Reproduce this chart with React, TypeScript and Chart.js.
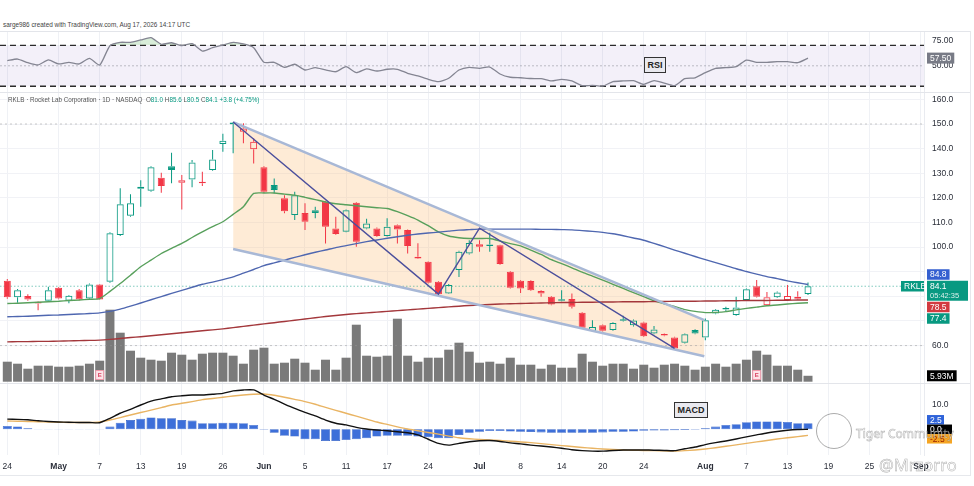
import React, { useEffect, useRef } from "react";
import { Chart, registerables } from "chart.js";

Chart.register(...registerables);

const FONT = "'Liberation Sans', Arial, sans-serif";

// ---------- x axis (trading-day index) ----------
const xTickIdx = [0, 5, 9, 13, 17, 21, 25, 29, 33, 37, 41, 46, 50, 54, 58, 62, 68, 72, 76, 80, 84, 89];
const xTickLabels = ["24", "May", "7", "13", "19", "26", "Jun", "5", "11", "17", "24", "Jul", "8", "14", "20", "24", "Aug", "7", "13", "19", "25", "Sep"];
const monthLabels = ["May", "Jun", "Jul", "Aug", "Sep"];
const X_MIN = -0.711;
const X_MAX = 89.3;

// ---------- price series (Apr 24 → Aug 17) ----------
const opens = [86.3, 79.6, 80.1, 77.8, 78.2, 83.5, 78.2, 82.5, 79.1, 84.8, 85.9, 104.9, 112.7, 123.7, 122.9, 128.2, 132.8, 126.1, 127.5, 126.4, 131.3, 141.9, 150.0, 146.9, 139.7, 132.4, 125.2, 119.8, 113.0, 113.9, 115.0, 118.4, 107.6, 106.2, 118.0, 107.6, 107.6, 104.5, 108.9, 106.9, 96.1, 94.0, 85.9, 81.2, 90.7, 97.4, 101.2, 101.1, 100.8, 90.0, 86.3, 86.2, 82.2, 79.8, 78.7, 78.9, 73.3, 65.9, 68.3, 66.3, 70.6, 68.3, 69.4, 64.9, 64.6, 63.3, 61.1, 66.3, 63.3, 73.0, 74.9, 72.4, 78.5, 84.1, 76.4, 79.6, 78.5, 79.0, 81.0];
const highs = [87.0, 83.0, 80.8, 78.0, 83.9, 83.8, 80.5, 83.0, 85.2, 85.0, 106.0, 123.9, 121.5, 127.2, 132.8, 130.2, 138.3, 129.3, 135.4, 130.6, 139.4, 146.0, 150.8, 150.3, 144.2, 132.8, 127.9, 121.1, 122.5, 117.8, 116.4, 118.8, 112.3, 115.3, 118.3, 111.5, 108.0, 111.7, 109.2, 107.2, 101.6, 94.3, 86.2, 85.0, 98.5, 102.8, 102.8, 105.8, 101.0, 90.3, 86.6, 86.5, 82.5, 80.1, 82.5, 81.2, 73.6, 70.3, 68.6, 69.5, 72.1, 70.6, 69.7, 68.0, 64.9, 63.6, 64.9, 66.6, 71.0, 74.9, 75.8, 79.8, 83.2, 86.6, 81.8, 82.0, 84.6, 82.1, 85.6];
const lows = [79.0, 77.4, 78.2, 74.4, 78.0, 78.8, 77.2, 78.3, 78.9, 78.5, 85.5, 104.5, 112.3, 116.4, 122.5, 122.1, 125.9, 115.3, 124.3, 124.8, 131.0, 138.7, 138.1, 142.2, 134.0, 122.0, 121.8, 113.7, 111.0, 106.9, 111.7, 101.5, 105.0, 106.0, 100.1, 107.3, 104.2, 104.3, 101.5, 97.4, 95.2, 85.2, 80.5, 81.0, 87.9, 97.0, 98.1, 98.1, 92.8, 83.2, 81.4, 82.2, 79.8, 76.4, 78.0, 75.1, 66.9, 65.5, 65.7, 66.0, 69.8, 67.8, 63.5, 64.6, 63.8, 58.5, 60.8, 64.6, 62.2, 72.7, 74.0, 72.1, 78.2, 79.5, 76.1, 79.3, 78.2, 78.7, 80.5];
const closes = [79.6, 82.5, 78.7, 77.1, 82.5, 79.1, 80.2, 78.7, 84.8, 78.7, 105.6, 117.4, 117.8, 124.5, 132.4, 124.8, 131.3, 127.2, 134.4, 125.9, 135.6, 143.2, 150.5, 148.2, 142.8, 122.5, 123.2, 114.6, 121.1, 110.3, 113.9, 108.3, 105.3, 115.0, 102.2, 109.6, 104.5, 108.3, 107.2, 100.4, 95.4, 85.5, 80.8, 84.6, 98.1, 101.7, 100.1, 100.4, 93.1, 83.5, 83.2, 82.5, 81.2, 76.7, 78.2, 75.8, 67.2, 67.5, 66.0, 69.2, 70.1, 70.2, 63.8, 66.5, 64.1, 58.8, 64.6, 64.9, 70.3, 74.6, 74.7, 75.5, 82.9, 79.8, 79.6, 81.6, 80.1, 79.8, 84.1];
const volumes = [20, 18, 13, 16, 16, 15, 15, 16, 18, 21, 72, 49, 31, 24, 22, 21, 29, 27, 22, 28, 29, 29, 26, 18, 32, 34, 18, 19, 23, 19, 12, 22, 12, 24, 57, 26, 25, 26, 63, 26, 20, 24, 24, 32, 39, 30, 19, 20, 18, 24, 17, 17, 13, 17, 14, 14, 28, 20, 16, 18, 18, 13, 17, 14, 17, 18, 16, 12, 15, 18, 15, 18, 22, 31, 27, 16, 16, 12, 5.93];

// ---------- moving averages ----------
const ma20 = [77.1, 77.2, 77.4, 77.6, 77.8, 78.0, 78.3, 78.5, 78.8, 79.1, 82.0, 85.2, 88.6, 92.0, 94.7, 97.4, 99.5, 101.5, 103.9, 106.2, 108.3, 110.3, 113.3, 116.4, 121.8, 122.0, 122.0, 121.5, 121.1, 120.2, 119.3, 118.3, 117.6, 117.2, 116.8, 116.4, 116.0, 115.7, 114.4, 112.8, 111.0, 108.7, 106.2, 104.5, 103.8, 103.5, 103.5, 103.5, 102.5, 101.4, 100.5, 98.8, 97.0, 94.9, 93.3, 91.6, 89.8, 88.2, 86.6, 84.9, 83.2, 81.5, 79.9, 78.2, 77.0, 75.9, 74.6, 73.9, 73.4, 73.5, 73.8, 74.5, 75.1, 75.6, 76.2, 76.5, 76.9, 77.2, 77.4];
const ma50 = [71.7, 71.8, 71.9, 72.1, 72.3, 72.4, 72.6, 72.8, 73.0, 73.3, 73.9, 74.8, 76.0, 77.3, 78.6, 79.9, 81.2, 82.4, 83.7, 84.9, 85.8, 86.8, 87.9, 89.4, 90.9, 92.5, 93.6, 94.7, 95.8, 96.9, 97.9, 98.8, 99.8, 100.6, 101.4, 102.2, 102.9, 103.6, 104.2, 104.8, 105.3, 105.7, 106.1, 106.5, 106.9, 107.1, 107.3, 107.3, 107.3, 107.3, 107.3, 107.3, 107.2, 107.2, 107.1, 107.0, 106.7, 106.4, 106.0, 105.4, 104.6, 103.7, 102.8, 101.5, 100.2, 98.8, 97.5, 96.2, 94.9, 93.7, 92.5, 91.2, 90.1, 89.0, 88.0, 87.2, 86.3, 85.5, 84.8];
const ma200 = [61.5, 61.6, 61.6, 61.7, 61.7, 61.8, 61.9, 62.0, 62.1, 62.2, 62.5, 62.9, 63.3, 63.6, 64.0, 64.4, 64.8, 65.2, 65.6, 66.0, 66.4, 66.8, 67.3, 67.8, 68.3, 68.8, 69.3, 69.8, 70.3, 70.8, 71.3, 71.8, 72.2, 72.6, 73.0, 73.3, 73.6, 73.9, 74.2, 74.5, 74.8, 75.1, 75.4, 75.7, 76.0, 76.3, 76.5, 76.7, 76.9, 77.0, 77.1, 77.2, 77.3, 77.4, 77.5, 77.5, 77.6, 77.6, 77.7, 77.7, 77.8, 77.8, 77.8, 77.9, 77.9, 78.0, 78.0, 78.0, 78.1, 78.1, 78.2, 78.2, 78.3, 78.3, 78.3, 78.4, 78.4, 78.5, 78.5];

// ---------- RSI ----------
const rsi = [55.0, 56.6, 53.0, 50.8, 55.7, 51.8, 53.4, 51.8, 57.3, 50.8, 69.6, 72.9, 72.9, 75.2, 77.4, 71.0, 72.5, 69.6, 71.6, 64.4, 67.7, 70.3, 72.9, 71.3, 67.7, 53.4, 53.4, 48.5, 51.5, 45.9, 48.2, 45.9, 44.2, 49.1, 43.3, 46.9, 44.9, 46.6, 46.6, 42.7, 40.1, 36.8, 34.5, 37.8, 45.9, 48.5, 47.5, 48.8, 42.0, 38.8, 38.3, 37.6, 37.4, 35.2, 36.8, 35.2, 30.6, 30.9, 30.1, 34.5, 35.2, 35.5, 31.9, 35.5, 33.1, 30.6, 37.4, 38.3, 43.3, 47.5, 48.2, 49.1, 55.6, 53.4, 53.4, 54.0, 54.0, 53.0, 57.5];
const rsiBands = [70, 30];
const rsiMid = 50;
const rsiTicks = [75, 50];

// ---------- MACD ----------
const macdLine = [4.2, 4.1, 3.9, 3.5, 3.2, 3.0, 2.9, 2.8, 2.8, 2.7, 4.5, 6.6, 8.2, 10.0, 11.6, 12.5, 13.4, 13.8, 14.1, 14.1, 14.4, 14.8, 15.8, 16.2, 16.2, 14.1, 12.3, 10.4, 8.6, 7.0, 5.5, 3.8, 2.5, 1.8, 0.8, 0.1, -0.3, -0.6, -1.0, -1.4, -2.3, -4.1, -5.8, -6.5, -5.8, -5.1, -4.7, -4.6, -5.0, -5.6, -6.0, -6.5, -6.9, -7.3, -7.8, -8.4, -8.8, -9.0, -9.0, -8.7, -8.5, -8.5, -8.5, -8.6, -8.7, -8.8, -8.0, -7.3, -6.3, -5.5, -4.8, -4.0, -3.1, -2.3, -1.5, -0.9, -0.4, -0.1, 0.0];
const signalLine = [3.4, 3.3, 3.2, 3.1, 3.0, 2.9, 2.8, 2.8, 2.8, 3.0, 3.8, 4.8, 5.9, 6.9, 7.9, 8.9, 10.0, 10.7, 11.4, 12.2, 12.7, 13.2, 13.7, 14.1, 14.4, 14.5, 14.0, 13.2, 12.3, 11.4, 10.3, 9.0, 7.8, 6.6, 5.4, 4.2, 3.0, 2.0, 1.0, 0.1, -0.6, -1.3, -2.0, -2.8, -3.5, -3.9, -4.2, -4.4, -4.6, -4.9, -5.2, -5.5, -5.9, -6.3, -6.7, -7.1, -7.5, -7.8, -8.1, -8.3, -8.5, -8.6, -8.7, -8.8, -8.9, -9.0, -8.8, -8.5, -8.1, -7.6, -7.0, -6.4, -5.8, -5.2, -4.6, -4.0, -3.5, -3.0, -2.5];
const macdHist = [1.4, 1.2, 0.4, 0.1, -0.1, -0.1, -0.1, -0.1, -0.1, -0.1, 1.1, 2.7, 3.8, 4.3, 4.9, 4.5, 4.5, 3.8, 3.6, 2.5, 2.5, 2.7, 2.7, 2.5, 1.8, -0.2, -1.4, -2.7, -3.0, -4.1, -4.1, -4.8, -4.8, -4.4, -4.1, -3.7, -3.0, -2.7, -2.7, -2.7, -3.0, -3.3, -3.7, -3.7, -2.3, -1.4, -1.0, -0.7, -0.7, -0.9, -1.0, -1.1, -1.3, -1.4, -1.4, -1.4, -1.4, -1.4, -1.3, -1.0, -1.0, -0.9, -0.6, -0.5, -0.5, -0.4, -0.3, -0.2, 0.4, 1.1, 1.8, 2.1, 2.9, 3.2, 3.2, 3.2, 3.0, 2.5, 2.5];
const macdTicks = [10];

// ---------- drawings ----------
const wedgeX = [22.0, 67.9];
const wedgeTop = [150.8, 70.3];
const wedgeBottom = [99.2, 55.7];
const zigzagX = [22.0, 42.0, 46.0, 65.0];
const zigzagY = [150.8, 80.9, 107.7, 58.9];
const levelLines = [150, 60];
const earningsIdx = [9, 73];
const priceTicks = [60, 70, 80, 90, 100, 110, 120, 130, 140, 150, 160];
const hiddenPriceTicks = [70, 80, 90];
const symbol = "RKLB";
const countdown = "05:42:35";

// ---------- styles ----------
const UP = "#089981";
const DOWN = "#f23645";
const C_MA20 = "#58a05c";
const C_MA50 = "#4f67b0";
const C_MA200 = "#a3373b";
const TXT = "#2a2e39";

const idxs = closes.map((_, i) => i);
const candleColor = closes.map((c, i) => (i === 0 ? (c >= opens[i] ? UP : DOWN) : c >= closes[i - 1] ? UP : DOWN));
const hollow = closes.map((c, i) => c >= opens[i]);

function xAxis(showLabels: boolean) {
  return {
    type: "linear",
    min: X_MIN,
    max: X_MAX,
    offset: false,
    afterBuildTicks: (s: any) => {
      s.ticks = xTickIdx.map((v) => ({ value: v }));
    },
    afterFit: (s: any) => {
      s.paddingLeft = 0;
      s.paddingRight = 0;
      s.height = showLabels ? 21 : 0;
    },
    grid: { color: "#eff1f5", drawTicks: false, offset: false },
    border: { display: false },
    ticks: {
      display: showLabels,
      autoSkip: false,
      maxRotation: 0,
      padding: 7,
      color: TXT,
      font: (ctx: any) => ({
        family: FONT,
        size: 8.5,
        weight: monthLabels.includes(xTickLabels[ctx.index]) ? "bold" : "normal",
      }),
      callback: (_v: any, i: number) => xTickLabels[i] ?? "",
    },
  };
}

function yAxis(min: number, max: number, ticks: number[], fmt: (v: number) => string, gridOn: boolean) {
  return {
    type: "linear",
    position: "right",
    min,
    max,
    afterBuildTicks: (s: any) => {
      s.ticks = ticks.map((v) => ({ value: v }));
    },
    afterFit: (s: any) => {
      s.width = 50;
      s.paddingTop = 0;
      s.paddingBottom = 0;
    },
    grid: { display: gridOn, color: "#f1f2f6", drawTicks: false },
    border: { display: true, color: "#e9ebf0" },
    ticks: {
      padding: 8,
      color: TXT,
      font: { family: FONT, size: 8.5 },
      callback: (v: any) => fmt(Number(v)),
    },
  };
}

function drawBadge(ctx: any, x: number, yc: number, text: string, bg: string, fg: string, w?: number, h = 10.5) {
  ctx.save();
  ctx.font = `8.5px ${FONT}`;
  const bw = w ?? ctx.measureText(text).width + 6;
  ctx.fillStyle = bg;
  ctx.fillRect(x, yc - h / 2, bw, h);
  ctx.fillStyle = fg;
  ctx.textBaseline = "middle";
  ctx.textAlign = "left";
  ctx.fillText(text, x + 3, yc + 0.5);
  ctx.restore();
}

const baseOptions = {
  responsive: false,
  maintainAspectRatio: false,
  animation: false,
  events: [],
  layout: { padding: 0 },
};

function line(data: any[], color: string, width: number, extra: any = {}) {
  return {
    type: "line",
    data,
    borderColor: color,
    borderWidth: width,
    pointRadius: 0,
    fill: false,
    tension: 0,
    ...extra,
  };
}

function rsiConfig(): any {
  const last = rsi.length - 1;
  return {
    type: "line",
    data: {
      datasets: [
        line(idxs.map((i) => ({ x: i, y: rsi[i] })), "#848592", 1.3, {
          tension: 0.2,
          fill: { target: { value: rsiBands[0] }, above: "rgba(76,175,80,0.22)", below: "rgba(0,0,0,0)" },
          order: 1,
        }),
        line([{ x: X_MIN, y: rsiBands[0] }, { x: X_MAX, y: rsiBands[0] }], "#2b2b2b", 1.3, {
          borderDash: [6, 4],
          fill: "+1",
          backgroundColor: "rgba(126,87,194,0.09)",
          order: 2,
        }),
        line([{ x: X_MIN, y: rsiBands[1] }, { x: X_MAX, y: rsiBands[1] }], "#2b2b2b", 1.3, { borderDash: [6, 4], order: 2 }),
        line([{ x: X_MIN, y: rsiMid }, { x: X_MAX, y: rsiMid }], "rgba(120,123,134,0.45)", 1, { borderDash: [2, 2], order: 3 }),
      ],
    },
    options: {
      ...baseOptions,
      plugins: { legend: { display: false }, tooltip: { enabled: false }, filler: { propagate: false, drawTime: "beforeDatasetsDraw" } },
      scales: {
        x: xAxis(false),
        y: yAxis(24.4, 83.0, rsiTicks, (v) => v.toFixed(2), false),
      },
    },
    plugins: [
      {
        id: "rsiBadge",
        afterDraw(chart: any) {
          const ys = chart.scales.y;
          drawBadge(chart.ctx, chart.chartArea.right + 3, ys.getPixelForValue(rsi[last]), rsi[last].toFixed(2), "#787b86", "#fff", undefined, 11);
        },
      },
    ],
  };
}

function priceConfig(): any {
  const last = closes.length - 1;
  const wedgeTopData = wedgeX.map((x, k) => ({ x, y: wedgeTop[k] }));
  const wedgeBottomData = wedgeX.map((x, k) => ({ x, y: wedgeBottom[k] }));
  return {
    type: "line",
    data: {
      datasets: [
        line(wedgeTopData, "#a8b8d6", 2.5, { fill: "+1", backgroundColor: "rgba(252,190,120,0.30)", order: 4 }),
        line(wedgeBottomData, "#a8b8d6", 2.5, { order: 4 }),
        {
          type: "bar",
          data: idxs.map((i) => ({ x: i, y: volumes[i] })),
          yAxisID: "yv",
          backgroundColor: "#7a7a7a",
          barThickness: 9,
          grouped: false,
          inflateAmount: 0,
          order: 9,
        },
        ...levelLines.map((lv) =>
          line([{ x: X_MIN, y: lv }, { x: X_MAX, y: lv }], "rgba(150,150,150,0.5)", 1, { borderDash: [2, 3], order: 8 })
        ),
        line([{ x: X_MIN, y: closes[last] }, { x: X_MAX, y: closes[last] }], "rgba(8,153,129,0.5)", 1, { borderDash: [1.5, 2], order: 8 }),
        {
          type: "bar",
          data: idxs.map((i) => ({ x: i, y: [Math.max(opens[i], closes[i]), highs[i]] })),
          backgroundColor: candleColor,
          barThickness: 1,
          grouped: false,
          inflateAmount: 0,
          order: 7,
        },
        {
          type: "bar",
          data: idxs.map((i) => ({ x: i, y: [lows[i], Math.min(opens[i], closes[i])] })),
          backgroundColor: candleColor,
          barThickness: 1,
          grouped: false,
          inflateAmount: 0,
          order: 7,
        },
        {
          type: "bar",
          data: idxs.map((i) => ({ x: i, y: [Math.min(opens[i], closes[i]), Math.max(opens[i], closes[i])] })),
          backgroundColor: idxs.map((i) => (hollow[i] ? "rgba(255,255,255,0)" : candleColor[i])),
          borderColor: candleColor,
          borderWidth: 1,
          borderSkipped: false,
          barThickness: 7,
          minBarLength: 1.5,
          grouped: false,
          inflateAmount: 0,
          order: 6,
        },
        line(idxs.map((i) => ({ x: i, y: ma200[i] })), C_MA200, 1.4, { tension: 0.2, order: 5 }),
        line(idxs.map((i) => ({ x: i, y: ma50[i] })), C_MA50, 1.4, { tension: 0.2, order: 5 }),
        line(idxs.map((i) => ({ x: i, y: ma20[i] })), C_MA20, 1.4, { tension: 0.2, order: 5 }),
        line(zigzagX.map((x, k) => ({ x, y: zigzagY[k] })), "#4b4f9c", 1.4, { order: 3 }),
      ],
    },
    options: {
      ...baseOptions,
      plugins: { legend: { display: false }, tooltip: { enabled: false }, filler: { propagate: false, drawTime: "beforeDatasetsDraw" } },
      scales: {
        x: xAxis(false),
        y: yAxis(44.8, 163.0, priceTicks, (v) => (hiddenPriceTicks.includes(v) ? "" : v.toFixed(1)), true),
        yv: { type: "linear", display: false, min: -1.3, max: 289.7 },
      },
    },
    plugins: [
      {
        id: "priceBadges",
        afterDatasetsDraw(chart: any) {
          const ctx = chart.ctx;
          const xs = chart.scales.x;
          const bottom = chart.chartArea.bottom;
          for (const i of earningsIdx) {
            const x = xs.getPixelForValue(i);
            ctx.save();
            ctx.fillStyle = "#fde3e8";
            ctx.strokeStyle = "#ee9aab";
            ctx.lineWidth = 1;
            ctx.beginPath();
            ctx.rect(x - 4, bottom - 12.5, 8, 9);
            ctx.fill();
            ctx.stroke();
            ctx.fillStyle = "#d9405f";
            ctx.font = `bold 6px ${FONT}`;
            ctx.textAlign = "center";
            ctx.textBaseline = "middle";
            ctx.fillText("E", x, bottom - 7.8);
            ctx.restore();
          }
        },
        afterDraw(chart: any) {
          const ctx = chart.ctx;
          const ys = chart.scales.y;
          const yv = chart.scales.yv;
          const axisX = chart.chartArea.right + 3;
          const pc = ys.getPixelForValue(closes[last]);
          const mainTop = pc - 5.5;
          const mainH = 20;
          ctx.save();
          ctx.fillStyle = UP;
          ctx.fillRect(axisX, mainTop, 41, mainH);
          ctx.fillStyle = "#fff";
          ctx.font = `8.5px ${FONT}`;
          ctx.textBaseline = "middle";
          ctx.fillText(closes[last].toFixed(1), axisX + 3, pc + 0.5);
          ctx.font = `7.5px ${FONT}`;
          ctx.fillStyle = "rgba(255,255,255,0.85)";
          ctx.fillText(countdown, axisX + 3, pc + 10);
          ctx.restore();
          drawBadge(ctx, chart.chartArea.right - 23, pc, symbol, UP, "#fff", 23);
          const p50 = ys.getPixelForValue(ma50[last]);
          drawBadge(ctx, axisX, Math.min(p50, mainTop - 1 - 5.25), ma50[last].toFixed(1), "#3560d0", "#fff");
          let cursor = mainTop + mainH + 1;
          const below = [
            { v: ma200[last], bg: "#d23a40" },
            { v: ma20[last], bg: UP },
          ].sort((a, b) => b.v - a.v);
          for (const b of below) {
            const yc = Math.max(ys.getPixelForValue(b.v), cursor + 5.25);
            drawBadge(ctx, axisX, yc, b.v.toFixed(1), b.bg, "#fff");
            cursor = yc + 5.25 + 1;
          }
          const vy = Math.min(yv.getPixelForValue(volumes[last]), chart.chartArea.bottom - 6);
          drawBadge(ctx, axisX, vy, volumes[last].toFixed(2) + "M", "#000", "#fff", undefined, 11);
        },
      },
    ],
  };
}

function macdConfig(): any {
  const last = macdLine.length - 1;
  return {
    type: "line",
    data: {
      datasets: [
        {
          type: "bar",
          data: idxs.map((i) => ({ x: i, y: macdHist[i] })),
          backgroundColor: "#3d6fd9",
          borderColor: "#2c5cc4",
          borderWidth: 0.6,
          borderSkipped: false,
          barThickness: 9,
          grouped: false,
          inflateAmount: 0,
          order: 3,
        },
        line(idxs.map((i) => ({ x: i, y: signalLine[i] })), "#e9b463", 1.4, { tension: 0.2, order: 2 }),
        line(idxs.map((i) => ({ x: i, y: macdLine[i] })), "#111111", 1.4, { tension: 0.2, order: 1 }),
      ],
    },
    options: {
      ...baseOptions,
      plugins: { legend: { display: false }, tooltip: { enabled: false } },
      scales: {
        x: xAxis(true),
        y: yAxis(-10.58, 18.64, macdTicks, (v) => v.toFixed(1), false),
      },
    },
    plugins: [
      {
        id: "macdBadges",
        afterDraw(chart: any) {
          const ys = chart.scales.y;
          const items = [
            { v: macdHist[last], bg: "#2f63d9", fg: "#fff" },
            { v: macdLine[last], bg: "#000", fg: "#fff" },
            { v: signalLine[last], bg: "#f5a524", fg: "#9b2200" },
          ].map((it) => ({ ...it, n: ys.getPixelForValue(it.v), y: 0 }));
          items.sort((a, b) => a.n - b.n);
          const H = 9.5;
          items.forEach((it, k) => {
            it.y = k === 0 ? it.n : Math.max(it.n, items[k - 1].y + H);
          });
          const shift = items.reduce((s, it) => s + it.n - it.y, 0) / items.length;
          for (const it of items) {
            drawBadge(chart.ctx, chart.chartArea.right + 3, it.y + shift, it.v.toFixed(1), it.bg, it.fg, it.bg === "#2f63d9" ? 17 : 25, 9.5);
          }
        },
      },
    ],
  };
}

export default function App() {
  const rsiRef = useRef<HTMLCanvasElement>(null);
  const priceRef = useRef<HTMLCanvasElement>(null);
  const macdRef = useRef<HTMLCanvasElement>(null);

  useEffect(() => {
    const charts = [
      new Chart(rsiRef.current as any, rsiConfig()),
      new Chart(priceRef.current as any, priceConfig()),
      new Chart(macdRef.current as any, macdConfig()),
    ];
    return () => charts.forEach((c) => c.destroy());
  }, []);

  const sep = (top: number) => (
    <div style={{ position: "absolute", left: 0, top, width: 970, height: 1, background: "#e3e5ea" }} />
  );
  const val = { color: UP };
  const lbl = { color: "#555" };
  const wm = {
    position: "absolute" as const,
    fontFamily: "'Noto Sans', sans-serif",
    color: "rgba(255,255,255,0.55)",
    WebkitTextStroke: "0.5px rgba(90,90,90,0.5)",
    whiteSpace: "nowrap" as const,
    pointerEvents: "none" as const,
  };

  return (
    <div
      style={{
        position: "absolute",
        left: 0,
        top: 0,
        width: 974,
        height: 486,
        background: "#fff",
        overflow: "hidden",
        fontFamily: FONT,
      }}
    >
      <div style={{ position: "absolute", left: 3, top: 21, fontSize: 6.4, color: "#444", whiteSpace: "nowrap" }}>
        sarge986 created with TradingView.com, Aug 17, 2026 14:17 UTC
      </div>
      <canvas ref={rsiRef} width={974} height={60} style={{ position: "absolute", left: 0, top: 32 }} />
      <canvas ref={priceRef} width={974} height={291} style={{ position: "absolute", left: 0, top: 92 }} />
      <canvas ref={macdRef} width={974} height={92} style={{ position: "absolute", left: 0, top: 384 }} />
      {sep(31)}
      {sep(92)}
      {sep(383)}
      <div style={{ position: "absolute", left: 970, top: 31, width: 1, height: 445, background: "#e6e8ec" }} />
      <div style={{ position: "absolute", left: 0, top: 475, width: 971, height: 1, background: "#e6e8ec" }} />
      <div style={{ position: "absolute", left: 8, top: 96, fontSize: 6.3, color: "#555", whiteSpace: "nowrap" }}>
        RKLB · Rocket Lab Corporation · 1D · NASDAQ&nbsp;&nbsp;<span style={lbl}>O</span>
        <span style={val}>81.0</span> <span style={lbl}>H</span>
        <span style={val}>85.6</span> <span style={lbl}>L</span>
        <span style={val}>80.5</span> <span style={lbl}>C</span>
        <span style={val}>84.1</span> <span style={val}>+3.8 (+4.75%)</span>
      </div>
      <div
        style={{
          position: "absolute",
          left: 644,
          top: 57,
          width: 20,
          height: 14,
          border: "1px solid #333",
          background: "#e9e9ef",
          fontSize: 9,
          fontWeight: "bold",
          color: "#222",
          textAlign: "center",
          lineHeight: "14px",
        }}
      >
        RSI
      </div>
      <div
        style={{
          position: "absolute",
          left: 674,
          top: 402,
          width: 32,
          height: 14,
          border: "1px solid #333",
          background: "#e9e9ef",
          fontSize: 9,
          fontWeight: "bold",
          color: "#222",
          textAlign: "center",
          lineHeight: "14px",
        }}
      >
        MACD
      </div>
      <div
        style={{
          position: "absolute",
          left: 816,
          top: 413,
          width: 34,
          height: 34,
          borderRadius: "50%",
          border: "1px solid rgba(90,90,90,0.5)",
          pointerEvents: "none",
        }}
      />
      <div style={{ ...wm, left: 856, top: 425, fontSize: 12 }}>Tiger Community</div>
      <div style={{ ...wm, left: 879, top: 453, fontSize: 16.5 }}>@Mrzorro</div>
    </div>
  );
}
